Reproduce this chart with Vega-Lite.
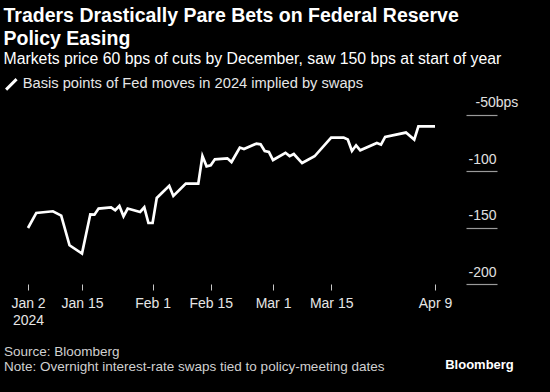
{
  "$schema": "https://vega.github.io/schema/vega-lite/v6.json",
  "width": 407,
  "height": 184,
  "autosize": {"type": "none"},
  "padding": {"left": 28, "top": 100, "right": 115, "bottom": 108},
  "background": "#000000",
  "config": {"view": {"stroke": null}, "font": "Liberation Sans"},
  "title": {
    "text": ["Traders Drastically Pare Bets on Federal Reserve", "Policy Easing"],
    "subtitle": "Markets price 60 bps of cuts by December, saw 150 bps at start of year",
    "anchor": "start",
    "frame": "group",
    "dx": -24.5,
    "offset": 9,
    "font": "Liberation Sans",
    "fontSize": 19.5,
    "fontWeight": "bold",
    "color": "#ffffff",
    "lineHeight": 22.5,
    "subtitleFont": "Liberation Sans",
    "subtitleFontSize": 15.8,
    "subtitleColor": "#ffffff",
    "subtitlePadding": 3
  },
  "data": {
    "values": [
      {"date": "2024-01-02", "bps": -150.4, "series": "Basis points of Fed moves in 2024 implied by swaps"},
      {"date": "2024-01-04", "bps": -137.1, "series": "Basis points of Fed moves in 2024 implied by swaps"},
      {"date": "2024-01-08", "bps": -135.6, "series": "Basis points of Fed moves in 2024 implied by swaps"},
      {"date": "2024-01-10", "bps": -139.4, "series": "Basis points of Fed moves in 2024 implied by swaps"},
      {"date": "2024-01-12", "bps": -165.7, "series": "Basis points of Fed moves in 2024 implied by swaps"},
      {"date": "2024-01-15", "bps": -173.1, "series": "Basis points of Fed moves in 2024 implied by swaps"},
      {"date": "2024-01-17", "bps": -138.3, "series": "Basis points of Fed moves in 2024 implied by swaps"},
      {"date": "2024-01-18", "bps": -138.6, "series": "Basis points of Fed moves in 2024 implied by swaps"},
      {"date": "2024-01-19", "bps": -133.2, "series": "Basis points of Fed moves in 2024 implied by swaps"},
      {"date": "2024-01-22", "bps": -132.1, "series": "Basis points of Fed moves in 2024 implied by swaps"},
      {"date": "2024-01-23", "bps": -134.7, "series": "Basis points of Fed moves in 2024 implied by swaps"},
      {"date": "2024-01-24", "bps": -130.9, "series": "Basis points of Fed moves in 2024 implied by swaps"},
      {"date": "2024-01-25", "bps": -140.1, "series": "Basis points of Fed moves in 2024 implied by swaps"},
      {"date": "2024-01-26", "bps": -133.2, "series": "Basis points of Fed moves in 2024 implied by swaps"},
      {"date": "2024-01-29", "bps": -136.2, "series": "Basis points of Fed moves in 2024 implied by swaps"},
      {"date": "2024-01-30", "bps": -132.1, "series": "Basis points of Fed moves in 2024 implied by swaps"},
      {"date": "2024-01-31", "bps": -146.0, "series": "Basis points of Fed moves in 2024 implied by swaps"},
      {"date": "2024-02-01", "bps": -146.0, "series": "Basis points of Fed moves in 2024 implied by swaps"},
      {"date": "2024-02-02", "bps": -123.8, "series": "Basis points of Fed moves in 2024 implied by swaps"},
      {"date": "2024-02-05", "bps": -113.0, "series": "Basis points of Fed moves in 2024 implied by swaps"},
      {"date": "2024-02-06", "bps": -122.0, "series": "Basis points of Fed moves in 2024 implied by swaps"},
      {"date": "2024-02-09", "bps": -111.1, "series": "Basis points of Fed moves in 2024 implied by swaps"},
      {"date": "2024-02-12", "bps": -111.1, "series": "Basis points of Fed moves in 2024 implied by swaps"},
      {"date": "2024-02-13", "bps": -86.7, "series": "Basis points of Fed moves in 2024 implied by swaps"},
      {"date": "2024-02-14", "bps": -95.8, "series": "Basis points of Fed moves in 2024 implied by swaps"},
      {"date": "2024-02-15", "bps": -94.9, "series": "Basis points of Fed moves in 2024 implied by swaps"},
      {"date": "2024-02-16", "bps": -89.6, "series": "Basis points of Fed moves in 2024 implied by swaps"},
      {"date": "2024-02-19", "bps": -88.7, "series": "Basis points of Fed moves in 2024 implied by swaps"},
      {"date": "2024-02-20", "bps": -92.0, "series": "Basis points of Fed moves in 2024 implied by swaps"},
      {"date": "2024-02-22", "bps": -79.2, "series": "Basis points of Fed moves in 2024 implied by swaps"},
      {"date": "2024-02-23", "bps": -80.5, "series": "Basis points of Fed moves in 2024 implied by swaps"},
      {"date": "2024-02-26", "bps": -75.7, "series": "Basis points of Fed moves in 2024 implied by swaps"},
      {"date": "2024-02-27", "bps": -76.3, "series": "Basis points of Fed moves in 2024 implied by swaps"},
      {"date": "2024-02-28", "bps": -82.2, "series": "Basis points of Fed moves in 2024 implied by swaps"},
      {"date": "2024-02-29", "bps": -83.1, "series": "Basis points of Fed moves in 2024 implied by swaps"},
      {"date": "2024-03-01", "bps": -90.2, "series": "Basis points of Fed moves in 2024 implied by swaps"},
      {"date": "2024-03-04", "bps": -83.8, "series": "Basis points of Fed moves in 2024 implied by swaps"},
      {"date": "2024-03-05", "bps": -86.8, "series": "Basis points of Fed moves in 2024 implied by swaps"},
      {"date": "2024-03-06", "bps": -84.9, "series": "Basis points of Fed moves in 2024 implied by swaps"},
      {"date": "2024-03-08", "bps": -92.9, "series": "Basis points of Fed moves in 2024 implied by swaps"},
      {"date": "2024-03-11", "bps": -86.9, "series": "Basis points of Fed moves in 2024 implied by swaps"},
      {"date": "2024-03-15", "bps": -70.4, "series": "Basis points of Fed moves in 2024 implied by swaps"},
      {"date": "2024-03-18", "bps": -70.4, "series": "Basis points of Fed moves in 2024 implied by swaps"},
      {"date": "2024-03-19", "bps": -72.1, "series": "Basis points of Fed moves in 2024 implied by swaps"},
      {"date": "2024-03-20", "bps": -82.2, "series": "Basis points of Fed moves in 2024 implied by swaps"},
      {"date": "2024-03-21", "bps": -77.2, "series": "Basis points of Fed moves in 2024 implied by swaps"},
      {"date": "2024-03-22", "bps": -81.6, "series": "Basis points of Fed moves in 2024 implied by swaps"},
      {"date": "2024-03-26", "bps": -75.1, "series": "Basis points of Fed moves in 2024 implied by swaps"},
      {"date": "2024-03-27", "bps": -76.6, "series": "Basis points of Fed moves in 2024 implied by swaps"},
      {"date": "2024-03-28", "bps": -69.8, "series": "Basis points of Fed moves in 2024 implied by swaps"},
      {"date": "2024-04-02", "bps": -65.9, "series": "Basis points of Fed moves in 2024 implied by swaps"},
      {"date": "2024-04-04", "bps": -72.1, "series": "Basis points of Fed moves in 2024 implied by swaps"},
      {"date": "2024-04-05", "bps": -60.4, "series": "Basis points of Fed moves in 2024 implied by swaps"},
      {"date": "2024-04-09", "bps": -60.4, "series": "Basis points of Fed moves in 2024 implied by swaps"}
    ]
  },
  "mark": {"type": "line", "strokeWidth": 2.7},
  "encoding": {
    "x": {
      "field": "date",
      "type": "temporal",
      "scale": {
        "type": "utc",
        "domain": [
          {"year": 2024, "month": 1, "date": 2, "utc": true},
          {"year": 2024, "month": 4, "date": 9, "utc": true}
        ]
      },
      "axis": {
        "values": [
          {"year": 2024, "month": 1, "date": 2, "utc": true},
          {"year": 2024, "month": 1, "date": 15, "utc": true},
          {"year": 2024, "month": 2, "date": 1, "utc": true},
          {"year": 2024, "month": 2, "date": 15, "utc": true},
          {"year": 2024, "month": 3, "date": 1, "utc": true},
          {"year": 2024, "month": 3, "date": 15, "utc": true},
          {"year": 2024, "month": 4, "date": 9, "utc": true}
        ],
        "labelExpr": "utcFormat(datum.value, '%m-%d') == '01-02' ? ['Jan 2', '2024'] : utcFormat(datum.value, '%b %-d')",
        "grid": false,
        "domain": false,
        "tickSize": 6,
        "tickColor": "#c8c8c8",
        "tickWidth": 1,
        "labelPadding": 6.5,
        "labelFont": "Liberation Sans",
        "labelFontSize": 14,
        "labelColor": "#e6e6e6",
        "labelLineHeight": 17,
        "labelOverlap": false,
        "labelFlush": false,
        "title": ["Source: Bloomberg", "Note: Overnight interest-rate swaps tied to policy-meeting dates"],
        "titleX": -24.5,
        "titleY": 71.5,
        "titleAlign": "left",
        "titleAnchor": "start",
        "titleBaseline": "alphabetic",
        "titleAngle": 0,
        "titleFont": "Liberation Sans",
        "titleFontSize": 13.5,
        "titleFontWeight": "normal",
        "titleColor": "#d0d0d0",
        "titleLineHeight": 14.5
      }
    },
    "y": {
      "field": "bps",
      "type": "quantitative",
      "scale": {"domain": [-200, -37.07], "nice": false, "zero": false},
      "axis": {
        "orient": "right",
        "offset": 31,
        "values": [-50, -100, -150, -200],
        "labelExpr": "datum.value == -50 ? '-50bps' : '' + datum.value",
        "grid": false,
        "domain": false,
        "tickSize": 31,
        "tickColor": "#9a9a9a",
        "tickWidth": 1.2,
        "labelAlign": "left",
        "labelBaseline": "alphabetic",
        "labelOffset": -8,
        "labelPadding": {"condition": {"test": "datum.value == -50", "value": -22}, "value": -29},
        "labelFont": "Liberation Sans",
        "labelFontSize": 14,
        "labelColor": "#e0e0e0",
        "labelOverlap": false,
        "title": "Bloomberg",
        "titleX": 13,
        "titleY": 268,
        "titleAngle": 0,
        "titleAlign": "center",
        "titleBaseline": "alphabetic",
        "titleFont": "Liberation Sans",
        "titleFontSize": 13,
        "titleFontWeight": "bold",
        "titleColor": "#ffffff"
      }
    },
    "color": {
      "field": "series",
      "type": "nominal",
      "scale": {"range": ["#ffffff"]},
      "legend": {
        "orient": "none",
        "legendX": -24,
        "legendY": -23,
        "title": null,
        "symbolType": "M-1,1L1,-1",
        "symbolSize": 110,
        "symbolStrokeWidth": 3,
        "labelFont": "Liberation Sans",
        "labelFontSize": 14.7,
        "labelColor": "#e6e6e6",
        "labelLimit": 500
      }
    }
  }
}
